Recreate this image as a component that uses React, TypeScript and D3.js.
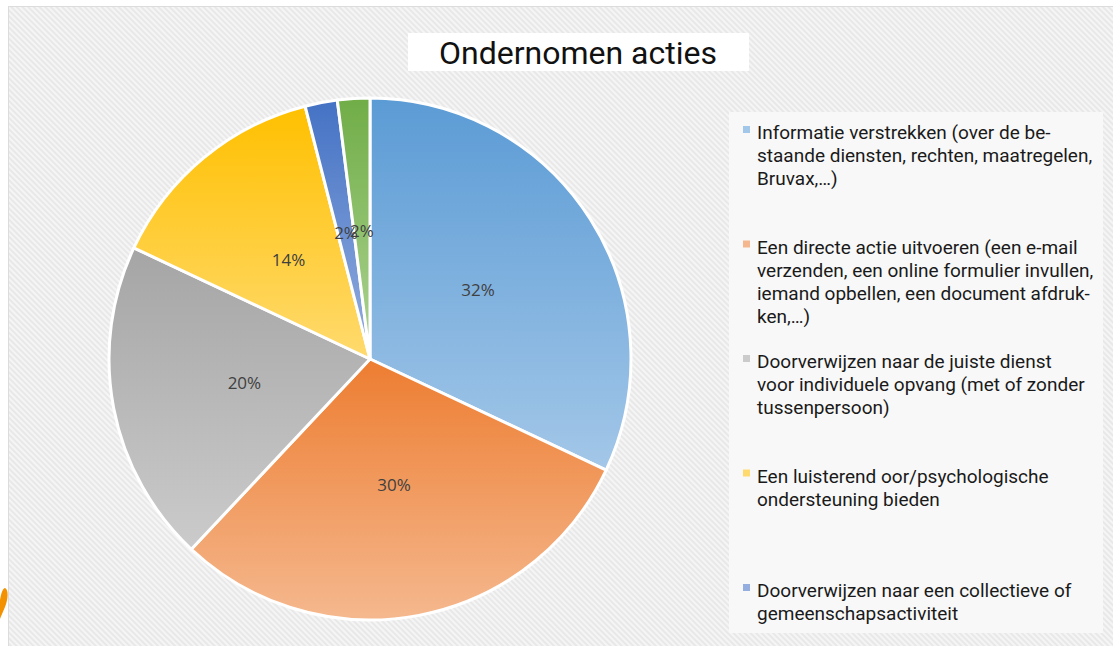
import React, {useEffect, useRef} from 'react'
import * as d3 from 'd3'

const categories = [
  'Informatie verstrekken (over de be-|staande diensten, rechten, maatregelen,|Bruvax,...)',
  'Een directe actie uitvoeren (een e-mail|verzenden, een online formulier invullen,|iemand opbellen, een document afdruk-|ken,...)',
  'Doorverwijzen naar de juiste dienst|voor individuele opvang (met of zonder|tussenpersoon)',
  'Een luisterend oor/psychologische|ondersteuning bieden',
  'Doorverwijzen naar een collectieve of|gemeenschapsactiviteit',
  'Andere',
]
const values = [32, 30, 20, 14, 2, 2]
const darkColors = ['#5b9bd5', '#ed7d31', '#a5a5a5', '#ffc000', '#4472c4', '#70ad47']
const lightColors = ['#a3c7e8', '#f5b88e', '#cbcbcb', '#ffda6e', '#94aedf', '#aed494']
const title = 'Ondernomen acties'

const W = 1113
const H = 646

const App = () => {
  const ref = useRef<SVGSVGElement>(null)

  useEffect(() => {
    const svg = d3.select(ref.current)
    svg.selectAll('*').remove()

    const defs = svg.append('defs')
    const hatch = defs.append('pattern')
      .attr('id', 'hatch')
      .attr('width', 4)
      .attr('height', 4)
      .attr('patternUnits', 'userSpaceOnUse')
      .attr('patternTransform', 'rotate(45)')
    hatch.append('rect').attr('width', 4).attr('height', 4).attr('fill', '#f5f5f5')
    hatch.append('rect').attr('width', 4).attr('height', 2).attr('fill', '#e8e8e8')

    values.forEach((v, i) => {
      const g = defs.append('linearGradient')
        .attr('id', `grad${i}`)
        .attr('x1', 0).attr('y1', 0).attr('x2', 0).attr('y2', 1)
      g.append('stop').attr('offset', '0%').attr('stop-color', darkColors[i])
      g.append('stop').attr('offset', '100%').attr('stop-color', lightColors[i])
    })

    svg.append('rect').attr('width', W).attr('height', H).attr('fill', '#fff')
    svg.append('rect')
      .attr('x', 8.5).attr('y', 6.5)
      .attr('width', W).attr('height', H)
      .attr('fill', 'url(#hatch)')
      .attr('stroke', '#dcdcdc')

    // orange fragment at the left edge
    svg.append('path')
      .attr('d', 'M5,588 C9,590 8,600 5,607 C3,612 1,616 0,619 L0,600 C1,595 2,589 5,588 Z')
      .attr('fill', '#f39200')

    // title
    svg.append('rect')
      .attr('x', 408).attr('y', 33).attr('width', 341).attr('height', 38)
      .attr('fill', '#fff')
    svg.append('text')
      .attr('x', 578).attr('y', 64)
      .attr('text-anchor', 'middle')
      .attr('font-family', 'Roboto')
      .attr('font-size', 32)
      .attr('fill', '#111')
      .text(title)

    // pie
    const cx = 370
    const cy = 359
    const r = 261
    const pie = d3.pie<number>().sort(null).value(d => d)
    const arcs = pie(values)
    const arc = d3.arc<d3.PieArcDatum<number>>().innerRadius(0).outerRadius(r)
    const labelArc = d3.arc<d3.PieArcDatum<number>>().innerRadius(r * 0.49).outerRadius(r * 0.49)

    const g = svg.append('g').attr('transform', `translate(${cx},${cy})`)
    g.selectAll('path.slice')
      .data(arcs)
      .join('path')
      .attr('class', 'slice')
      .attr('d', arc)
      .attr('fill', (d, i) => `url(#grad${i})`)
      .attr('stroke', '#fff')
      .attr('stroke-width', 3)
      .attr('stroke-linejoin', 'round')

    g.selectAll('text.lbl')
      .data(arcs)
      .join('text')
      .attr('class', 'lbl')
      .attr('transform', d => `translate(${labelArc.centroid(d)})`)
      .attr('text-anchor', 'middle')
      .attr('dy', '0.35em')
      .attr('font-family', 'Open Sans')
      .attr('font-size', 17)
      .attr('fill', '#404040')
      .text(d => `${d.data}%`)

    // legend
    const lx = 729
    const ly = 112
    svg.append('rect')
      .attr('x', lx).attr('y', ly).attr('width', 374).attr('height', 521)
      .attr('fill', '#f8f8f8')

    const slot = 114.5
    const lineH = 23
    const items = svg.append('g')
    categories.slice(0, 5).forEach((c, i) => {
      const y0 = 139 + i * slot
      items.append('rect')
        .attr('x', 743).attr('y', y0 - 13)
        .attr('width', 7).attr('height', 7)
        .attr('fill', lightColors[i])
      const t = items.append('text')
        .attr('font-family', 'Roboto')
        .attr('font-size', 19)
        .attr('fill', '#1a1a1a')
      c.split('|').forEach((line, j) => {
        t.append('tspan')
          .attr('x', 757)
          .attr('y', y0 + j * lineH)
          .text(line.replace('...', '…'))
      })
    })
  }, [])

  return <div style={{position: 'absolute', left: 0, top: 0}}>
    <svg ref={ref} width={W} height={H} style={{display: 'block'}} />
  </div>
}

export default App
